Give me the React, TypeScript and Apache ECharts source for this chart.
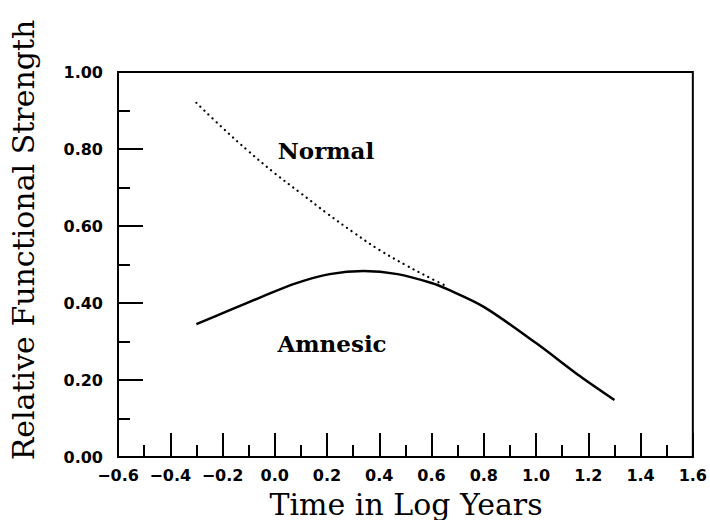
import React, { useEffect, useRef } from "react";
import * as echarts from "echarts";

const normalX = [-0.3, -0.2, -0.1, 0.0, 0.1, 0.2, 0.3, 0.4, 0.5, 0.6, 0.66];
const normalY = [0.92, 0.855, 0.794, 0.737, 0.685, 0.633, 0.584, 0.538, 0.499, 0.463, 0.443];

const amnesicX = [-0.3, -0.17, -0.05, 0.08, 0.21, 0.34, 0.47, 0.6, 0.66, 0.8, 1.0, 1.17, 1.3];
const amnesicY = [0.345, 0.382, 0.416, 0.451, 0.475, 0.483, 0.475, 0.452, 0.436, 0.39, 0.296, 0.209, 0.148];

const yTickLabels = ["0.00", "0.20", "0.40", "0.60", "0.80", "1.00"];
const xTickLabels = ["\u22120.6", "\u22120.4", "\u22120.2", "0.0", "0.2", "0.4", "0.6", "0.8", "1.0", "1.2", "1.4", "1.6"];

const xTitle = "Time in Log Years";
const yTitle = "Relative Functional Strength";
const normalLabel = "Normal";
const amnesicLabel = "Amnesic";

export default function App() {
  const ref = useRef<HTMLDivElement>(null);
  useEffect(() => {
    if (!ref.current) return;
    const chart = echarts.init(ref.current, null, { renderer: "svg" });
    const labelFont = {
      color: "#000",
      fontFamily: "DejaVu Sans",
      fontWeight: "bold" as const,
      fontSize: 16,
    };
    const serifText = (size: number, weight: string) => ({
      fill: "#000",
      fontFamily: "DejaVu Serif",
      fontSize: size,
      fontWeight: weight,
      textAlign: "center",
      textVerticalAlign: "middle",
    });
    chart.setOption({
      animation: false,
      backgroundColor: "#fff",
      grid: {
        left: 118,
        right: 16,
        top: 72,
        bottom: 63,
        show: true,
        borderColor: "#000",
        borderWidth: 2,
        backgroundColor: "transparent",
      },
      xAxis: {
        type: "value",
        min: -0.6,
        max: 1.6,
        interval: 0.2,
        axisLine: { show: true, onZero: false, lineStyle: { color: "#000", width: 2 } },
        axisTick: { show: true, inside: true, length: 24, lineStyle: { color: "#000", width: 2 } },
        minorTick: { show: true, splitNumber: 2, length: 12, lineStyle: { color: "#000", width: 2 } },
        splitLine: { show: false },
        axisLabel: {
          ...labelFont,
          margin: 10,
          showMinLabel: true,
          showMaxLabel: true,
          formatter: (v: number) => {
            const i = Math.round((v + 0.6) / 0.2);
            return xTickLabels[i] ?? "";
          },
        },
      },
      yAxis: {
        type: "value",
        min: 0,
        max: 1,
        interval: 0.2,
        axisLine: { show: true, onZero: false, lineStyle: { color: "#000", width: 2 } },
        axisTick: { show: true, inside: true, length: 25, lineStyle: { color: "#000", width: 2 } },
        minorTick: { show: true, splitNumber: 2, length: 12, lineStyle: { color: "#000", width: 2 } },
        splitLine: { show: false },
        axisLabel: {
          ...labelFont,
          margin: 15,
          formatter: (v: number) => {
            const i = Math.round(v / 0.2);
            return yTickLabels[i] ?? "";
          },
        },
      },
      series: [
        {
          type: "line",
          name: normalLabel,
          data: normalX.map((x, i) => [x, normalY[i]]),
          smooth: 0.4,
          showSymbol: false,
          symbol: "none",
          lineStyle: { color: "#000", width: 2.2, type: [0.1, 5.5], cap: "round" },
          z: 3,
        },
        {
          type: "line",
          name: amnesicLabel,
          data: amnesicX.map((x, i) => [x, amnesicY[i]]),
          smooth: 0.3,
          showSymbol: false,
          symbol: "none",
          lineStyle: { color: "#000", width: 2.5 },
          z: 4,
        },
      ],
      graphic: [
        {
          type: "text",
          x: 326,
          y: 150,
          style: { text: normalLabel, ...serifText(23, "bold") },
        },
        {
          type: "text",
          x: 332,
          y: 343,
          style: { text: amnesicLabel, ...serifText(23, "bold") },
        },
        {
          type: "text",
          x: 406,
          y: 504,
          style: { text: xTitle, ...serifText(30, "normal") },
        },
        {
          type: "text",
          x: 23,
          y: 240,
          rotation: Math.PI / 2,
          style: { text: yTitle, ...serifText(30, "normal") },
        },
      ],
    });
    return () => chart.dispose();
  }, []);
  return <div ref={ref} style={{ width: 710, height: 520, position: "absolute", left: 0, top: 0 }} />;
}
